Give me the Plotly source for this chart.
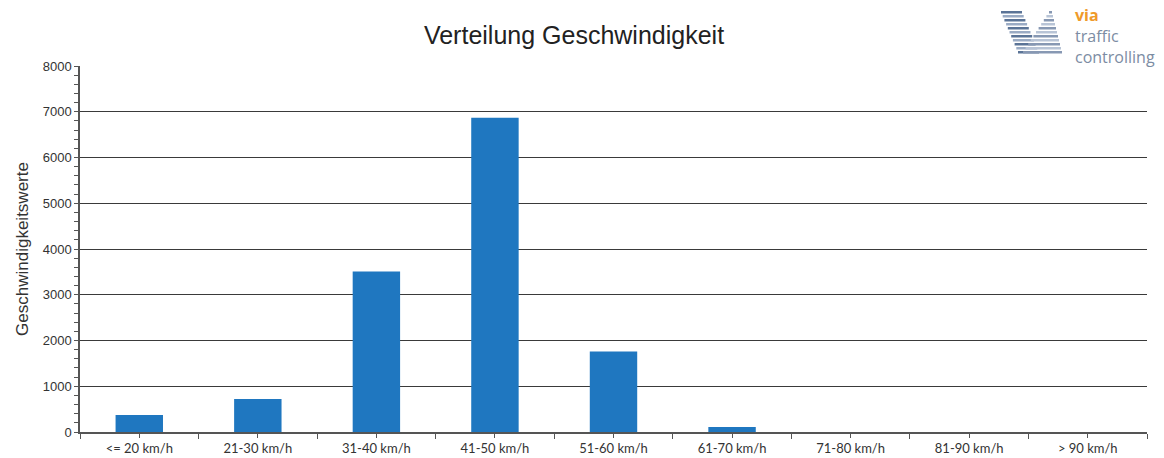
import plotly.graph_objects as go

categories = ["<= 20 km/h", "21-30 km/h", "31-40 km/h", "41-50 km/h", "51-60 km/h",
              "61-70 km/h", "71-80 km/h", "81-90 km/h", "> 90 km/h"]
values = [370, 720, 3510, 6870, 1760, 110, 0, 0, 0]
y_ticks = [0, 1000, 2000, 3000, 4000, 5000, 6000, 7000, 8000]

W, H = 1164, 458
L, R, T, B = 80, 17, 66, 26
pw, ph = W - L - R, H - T - B

def px(x):
    return (x - L) / pw

def py(y):
    return (H - B - y) / ph

x_idx = list(range(len(categories)))

fig = go.Figure()
fig.add_trace(go.Bar(x=x_idx, y=values, marker=dict(color="#1f77c0", line=dict(width=0)),
                     width=0.4, showlegend=False))

shapes = []
# Logo stripes (decoration)
for i in range(11):
    y = 11 + i * 4
    t = i / 10
    xl = 1001 + t * 17
    shapes.append(dict(type="rect", xref="paper", yref="paper",
                       x0=px(xl), x1=px(xl + 21), y0=py(y + 2.5), y1=py(y),
                       fillcolor="#5b7497" if i % 2 == 0 else "#9aabc4", line=dict(width=0), layer="above"))
    xr_right = 1052 + t * 10
    xr_left = 1049 - t * 26
    shapes.append(dict(type="rect", xref="paper", yref="paper",
                       x0=px(xr_left), x1=px(xr_right), y0=py(y + 2.5), y1=py(y),
                       fillcolor="#8798b3" if i % 2 == 0 else "#b8c4d6", line=dict(width=0), layer="above"))

annotations = [
    dict(text="<b><span style='color:#ef9a2a'>via</span></b><br>traffic<br>controlling",
         xref="paper", yref="paper", x=px(1073), y=py(2), xanchor="left", yanchor="top",
         align="left", showarrow=False,
         font=dict(family="Open Sans, Lato, sans-serif", size=16, color="#7c8ca3")),
]

fig.update_layout(
    width=W, height=H,
    margin=dict(l=L, r=R, t=T, b=B, pad=0),
    paper_bgcolor="white", plot_bgcolor="white",
    title=dict(text="Verteilung Geschwindigkeit", xref="container", x=574 / W, xanchor="center",
               yref="container", y=1 - 35 / H, yanchor="middle",
               font=dict(family="Liberation Sans, Arial, sans-serif", size=25, color="#222222")),
    bargap=0.6,
    shapes=shapes,
    annotations=annotations,
    xaxis=dict(
        range=[-0.5, len(categories) - 0.5],
        tickvals=x_idx, ticktext=categories,
        ticks="outside", ticklen=4, tickcolor="#555555", tickwidth=1,
        minor=dict(tick0=0.5, dtick=1, ticks="outside", ticklen=5, tickcolor="#555555", tickwidth=1, showgrid=False),
        showline=True, linecolor="#555555", linewidth=1.5,
        showgrid=False, zeroline=False, automargin=False,
        tickfont=dict(family="Lato, Liberation Sans, sans-serif", size=13, color="#333333"),
    ),
    yaxis=dict(
        range=[0, 8000], tickvals=y_ticks,
        ticks="outside", ticklen=4, tickcolor="#555555", tickwidth=1,
        minor=dict(dtick=200, ticks="outside", ticklen=4, tickcolor="#555555", tickwidth=1, showgrid=False),
        showline=True, linecolor="#555555", linewidth=1.5,
        showgrid=True, gridcolor="#3a3a3a", gridwidth=1,
        zeroline=False, automargin=False,
        tickfont=dict(family="Liberation Sans, Arial, sans-serif", size=13, color="#333333"),
        title=dict(text="Geschwindigkeitswerte", standoff=10,
                   font=dict(family="Liberation Sans, Arial, sans-serif", size=17, color="#333333")),
    ),
)

fig.write_html("out.html")
